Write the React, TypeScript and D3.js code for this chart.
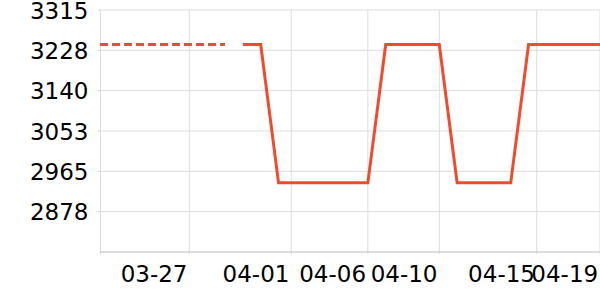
import React from "react";
import * as d3 from "d3";

// ---- data ----
const startDate = "2024-03-22";
const dashedValues = [3240, 3240, 3240, 3240, 3240, 3240, 3240, 3240]; // days 0..7
const solidStartDay = 8;
const solidValues = [
  3240, 3240, 2940, 2940, 2940, 2940, 2940, 2940, 3240, 3240, 3240, 3240,
  2940, 2940, 2940, 2940, 3240, 3240, 3240, 3240, 3240,
]; // days 8..28
const xTickDates = [
  "2024-03-27T00:00",
  "2024-04-01T17:00",
  "2024-04-06T00:00",
  "2024-04-10T00:00",
  "2024-04-15T11:00",
  "2024-04-19T00:00",
];
const xTickLabels = ["03-27", "04-01", "04-06", "04-10", "04-15", "04-19"];
const yMin = 2790;
const yMax = 3315;
const yTickValues = [2877.5, 2965, 3052.5, 3140, 3227.5, 3315];

const W = 600;
const H = 300;
const M = { left: 100, right: 0, top: 10, bottom: 48 };
const COLOR = "#ef4b2c";
const FONT = "DejaVu Sans";

function dayDate(i: number) {
  const d = new Date(startDate + "T00:00");
  d.setDate(d.getDate() + i);
  return d;
}

export default function App() {
  const totalDays = solidStartDay + solidValues.length - 1;
  const x = d3
    .scaleTime()
    .domain([dayDate(0), dayDate(totalDays)])
    .range([M.left, W - M.right]);
  const y = d3.scaleLinear().domain([yMin, yMax]).range([H - M.bottom, M.top]);

  const dashedData = dashedValues.map((v, i) => ({ d: dayDate(i), v }));
  const solidData = solidValues.map((v, i) => ({ d: dayDate(solidStartDay + i), v }));
  const line = d3
    .line<{ d: Date; v: number }>()
    .x((p) => x(p.d))
    .y((p) => y(p.v));

  const ticks = xTickDates.map((s) => new Date(s));
  const yFmt = d3.format(".0f");
  const y0 = H - M.bottom;

  return (
    <svg
      width={W}
      height={H}
      style={{ position: "absolute", left: 0, top: 0, background: "#fff" }}
      fontFamily={FONT}
    >
      {/* horizontal gridlines */}
      {yTickValues.map((t) => (
        <g key={"gy" + t}>
          <line x1={M.left} x2={W} y1={y(t)} y2={y(t)} stroke="#dddddd" strokeWidth={1} />
          <line x1={M.left - 2} x2={M.left} y1={y(t)} y2={y(t)} stroke="#cccccc" strokeWidth={1} />
          <text
            x={M.left - 11.5}
            y={y(t) + 8.6}
            textAnchor="end"
            fontSize={23}
            fill="#000"
          >
            {yFmt(t)}
          </text>
        </g>
      ))}
      {/* vertical gridlines */}
      {ticks.map((t, i) => (
        <g key={"gx" + i}>
          <line x1={x(t)} x2={x(t)} y1={M.top} y2={y0 + 2} stroke="#dddddd" strokeWidth={1} />
          <text x={x(t) - 1.8} y={y0 + 30} textAnchor="end" fontSize={23} fill="#000">
            {xTickLabels[i]}
          </text>
        </g>
      ))}
      {/* y axis line */}
      <line x1={M.left + 0.5} x2={M.left + 0.5} y1={M.top} y2={y0 + 2} stroke="#dddddd" strokeWidth={1} />
      {/* x axis line */}
      <line x1={M.left} x2={W} y1={y0} y2={y0} stroke="#bbbbbb" strokeWidth={1} />
      {/* series */}
      <path d={line(dashedData) || ""} fill="none" stroke={COLOR} strokeWidth={3} strokeDasharray="8 4" />
      <path d={line(solidData) || ""} fill="none" stroke={COLOR} strokeWidth={3} strokeLinejoin="miter" />
    </svg>
  );
}
